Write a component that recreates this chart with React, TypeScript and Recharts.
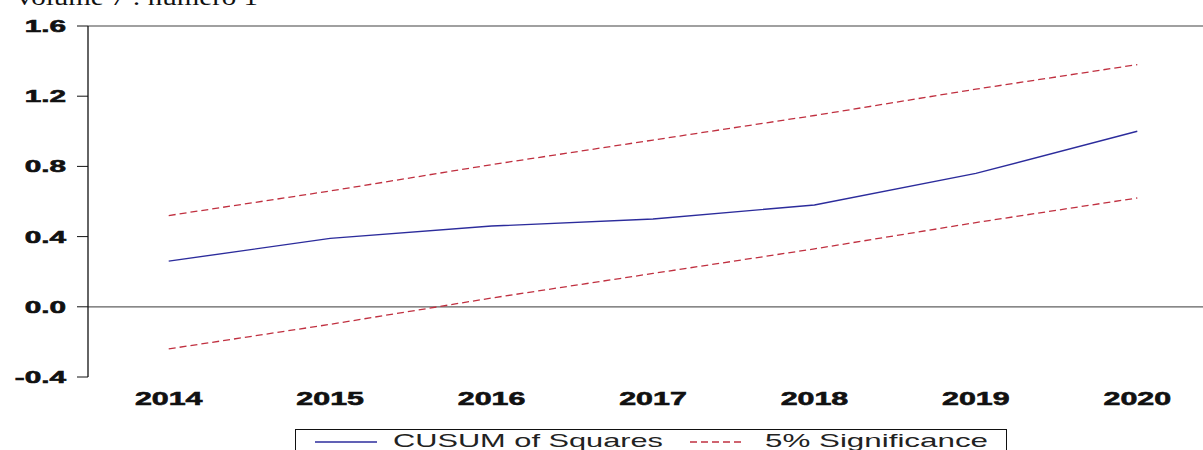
import React from 'react';
import { LineChart, Line, XAxis, YAxis, ReferenceLine, Legend } from 'recharts';

// CUSUM of squares test with 5% significance bounds
const years = [2014, 2015, 2016, 2017, 2018, 2019, 2020];
const cusumSq = [0.26, 0.39, 0.46, 0.5, 0.58, 0.76, 1.0];
const upperBound = [0.52, 0.66, 0.81, 0.95, 1.09, 1.24, 1.38];
const lowerBound = [-0.24, -0.1, 0.05, 0.19, 0.33, 0.48, 0.62];

const yTicks = [-0.4, 0, 0.4, 0.8, 1.2, 1.6];
// period boundaries, where the x-axis tick marks sit
const yearEdges = [2013.5, 2014.5, 2015.5, 2016.5, 2017.5, 2018.5, 2019.5, 2020.5];

const data = years.map((year, i) => ({
  year,
  cusum: cusumSq[i],
  upper: upperBound[i],
  lower: lowerBound[i],
}));

const BLUE = '#2c2c9c';
const RED = '#c03040';
const FONT = '"Liberation Sans", Arial, sans-serif';

const YTick = ({ x, y, payload }: any) => (
  <g transform={`translate(${x},${y})`}>
    <text
      transform="scale(1.75,1)"
      textAnchor="end"
      dy={6}
      fontSize={17}
      fontWeight="bold"
      fontFamily={FONT}
      fill="#111"
      stroke="#111"
      strokeWidth={0.6}
    >
      {Number(payload.value).toFixed(1)}
    </text>
  </g>
);

const XTick = ({ x, y, payload }: any) => (
  <g transform={`translate(${x},${y})`}>
    <text
      transform="scale(1.6,1)"
      textAnchor="middle"
      dy={28}
      fontSize={19}
      fontWeight="bold"
      fontFamily={FONT}
      fill="#111"
      stroke="#111"
      strokeWidth={0.6}
    >
      {payload.value}
    </text>
  </g>
);

const LegendBox = () => (
  <svg width={712} height={30} style={{ display: 'block' }}>
    <rect x={0.5} y={0.5} width={711} height={40} fill="#fff" stroke="#111" />
    <line x1={20} x2={82} y1={13} y2={13} stroke={BLUE} strokeWidth={1.3} />
    <text
      x={98}
      y={18}
      fontSize={19}
      fontFamily={FONT}
      fill="#222"
      textLength={270}
      lengthAdjust="spacingAndGlyphs"
    >
      CUSUM of Squares
    </text>
    <line x1={395} x2={450} y1={13} y2={13} stroke={RED} strokeWidth={1.3} strokeDasharray="7 4" />
    <text
      x={470}
      y={18}
      fontSize={19}
      fontFamily={FONT}
      fill="#222"
      textLength={223}
      lengthAdjust="spacingAndGlyphs"
    >
      5% Significance
    </text>
  </svg>
);

const App = () => {
  return (
    <div
      style={{
        position: 'absolute',
        left: 0,
        top: 0,
        width: 1203,
        height: 450,
        overflow: 'hidden',
        background: '#fff',
      }}
    >
      <svg width={300} height={12} style={{ position: 'absolute', left: 0, top: 0 }}>
        <text
          x={14}
          y={5}
          fontSize={24}
          fontFamily='"Liberation Serif", "Times New Roman", serif'
          fill="#111"
          textLength={244}
          lengthAdjust="spacingAndGlyphs"
        >
          Volume 7 : numéro 1
        </text>
      </svg>
      <LineChart width={1230} height={450} data={data} margin={{ top: 26, right: 12, bottom: 43, left: 0 }}>
        <XAxis
          xAxisId="edges"
          dataKey="year"
          type="number"
          domain={[2013.5, 2020.5]}
          ticks={yearEdges}
          interval={0}
          height={0}
          tickSize={8}
          tickFormatter={() => ''}
          axisLine={{ stroke: '#111', strokeWidth: 1.3 }}
          tickLine={{ stroke: '#111' }}
        />
        <XAxis
          xAxisId="years"
          dataKey="year"
          type="number"
          domain={[2013.5, 2020.5]}
          ticks={years}
          interval={0}
          height={30}
          tickSize={0}
          tickMargin={0}
          axisLine={false}
          tickLine={false}
          tick={<XTick />}
        />
        <YAxis
          type="number"
          domain={[-0.4, 1.6]}
          ticks={yTicks}
          interval={0}
          width={88}
          tickSize={11}
          tickMargin={11}
          axisLine={{ stroke: '#111', strokeWidth: 1.3 }}
          tickLine={{ stroke: '#111' }}
          tick={<YTick />}
        />
        <ReferenceLine xAxisId="years" y={1.6} stroke="#808080" strokeWidth={1.3} />
        <ReferenceLine xAxisId="years" y={0} stroke="#606060" strokeWidth={1.3} />
        <Line
          xAxisId="years"
          dataKey="cusum"
          name="CUSUM of Squares"
          type="linear"
          stroke={BLUE}
          strokeWidth={1.4}
          dot={false}
          isAnimationActive={false}
        />
        <Line
          xAxisId="years"
          dataKey="upper"
          name="5% Significance"
          type="linear"
          stroke={RED}
          strokeWidth={1.3}
          strokeDasharray="7 4"
          dot={false}
          isAnimationActive={false}
        />
        <Line
          xAxisId="years"
          dataKey="lower"
          name="5% Significance"
          legendType="none"
          type="linear"
          stroke={RED}
          strokeWidth={1.3}
          strokeDasharray="7 4"
          dot={false}
          isAnimationActive={false}
        />
        <Legend
          layout="horizontal"
          verticalAlign="middle"
          align="center"
          content={<LegendBox />}
          wrapperStyle={{ left: 295, top: 429, width: 712, height: 30 }}
        />
      </LineChart>
    </div>
  );
};

export default App;
